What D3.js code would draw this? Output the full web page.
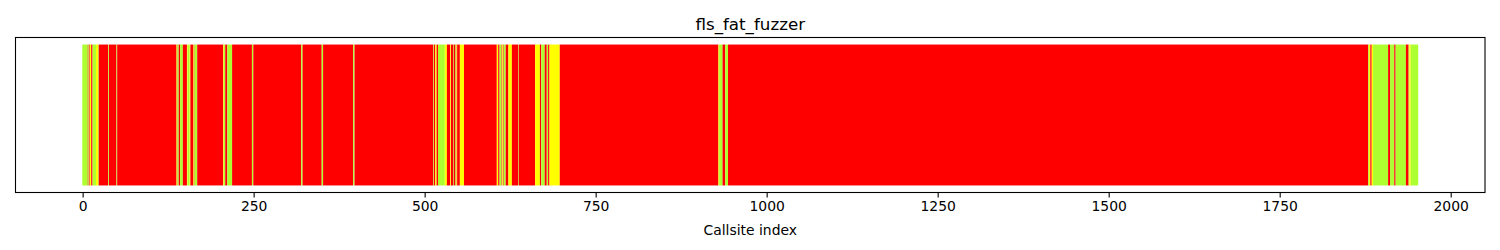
<!DOCTYPE html>
<html>
<head>
<meta charset="utf-8">
<script src="https://cdn.jsdelivr.net/npm/d3@7"></script>
<style>
  body { margin: 0; background: #fff; }
  svg text { font-family: "DejaVu Sans", sans-serif; fill: #000; }
</style>
</head>
<body>
<div id="chart"></div>
<script>
/*------Callsite coverage, stored as runs: each run ends (exclusive) at runEnd and has one colour code------*/

var chartTitle = "fls_fat_fuzzer";
var xLabel = "Callsite index";
var callsiteCount = 1953;

var runEnd = [8, 9, 10, 11, 13, 15, 20, 23, 24, 38, 39, 50, 51, 137, 138, 139, 141, 143, 147, 153,
  154, 157, 158, 162, 163, 164, 168, 206, 207, 209, 212, 219, 248, 250, 320, 322, 350, 352, 396, 398,
  513, 514, 516, 518, 520, 530, 533, 538, 539, 542, 543, 545, 546, 547, 548, 552, 558, 606, 608, 610,
  613, 614, 615, 616, 619, 623, 628, 637, 638, 662, 669, 671, 676, 679, 681, 683, 698, 930, 931, 936,
  940, 944, 1880, 1881, 1883, 1885, 1887, 1909, 1912, 1918, 1920, 1935, 1939, 1940, 1942, 1953];

var runCode = ["G", "R", "G", "R", "Y", "R", "G", "Y", "G", "R", "G", "R", "G", "R", "Y", "R", "G", "R", "G", "R",
  "Y", "G", "Y", "R", "Y", "R", "G", "R", "Y", "G", "R", "G", "R", "G", "R", "G", "R", "G", "R", "G",
  "R", "G", "R", "Y", "R", "G", "Y", "R", "Y", "R", "G", "R", "G", "R", "Y", "R", "Y", "R", "Y", "R",
  "G", "R", "Y", "R", "G", "R", "Y", "R", "G", "R", "Y", "R", "G", "R", "G", "R", "Y", "R", "Y", "G",
  "R", "G", "R", "G", "Y", "R", "Y", "G", "R", "G", "R", "G", "R", "G", "Y", "G"];

var xTicks = [0, 250, 500, 750, 1000, 1250, 1500, 1750, 2000];

var colorOf = { R: "#ff0000", Y: "#ffff00", G: "#adff2f" };

/*------Build the run table------*/

var runs = runEnd.map(function(e, i) {
  return { start: i === 0 ? 0 : runEnd[i - 1], end: e, code: runCode[i] };
});

/*------Canvas------*/

var width = 1500, height = 250;
var margin = { left: 15.5, right: 15, top: 37.5, bottom: 57.5 };

var svg = d3.select("#chart")
  .append("svg")
  .attr("width", width)
  .attr("height", height);

// bars are centred on their index, width 1, axes padded by 5% like matplotlib
var lo = -0.5, hi = callsiteCount - 0.5;
var pad = (hi - lo) * 0.05;

var x = d3.scaleLinear()
  .domain([lo - pad, hi + pad])
  .range([margin.left, width - margin.right]);

var y = d3.scaleLinear()
  .domain([-0.05, 1.05])
  .range([height - margin.bottom, margin.top]);

/*------Bars------*/

svg.append("g")
  .selectAll("rect")
  .data(runs)
  .enter()
  .append("rect")
    .attr("x", function(d) { return x(d.start - 0.5); })
    .attr("width", function(d) { return x(d.end - 0.5) - x(d.start - 0.5); })
    .attr("y", y(1))
    .attr("height", y(0) - y(1))
    .attr("fill", function(d) { return colorOf[d.code]; });

/*------Frame------*/

svg.append("rect")
  .attr("x", margin.left)
  .attr("y", margin.top)
  .attr("width", width - margin.left - margin.right)
  .attr("height", height - margin.top - margin.bottom)
  .attr("fill", "none")
  .attr("stroke", "#000")
  .attr("stroke-width", 1.1);

/*------X axis------*/

var xAxis = svg.append("g")
  .attr("transform", "translate(0," + (height - margin.bottom) + ")")
  .call(d3.axisBottom(x).tickValues(xTicks).tickSize(4.9).tickPadding(4).tickFormat(d3.format("d")));

xAxis.select(".domain").remove();
xAxis.selectAll(".tick line").attr("stroke", "#000").attr("stroke-width", 1.1);
xAxis.selectAll(".tick text")
  .attr("font-size", "13.9px")
  .attr("font-family", "DejaVu Sans")
  .attr("fill", "#000");

/*------Labels------*/

svg.append("text")
  .attr("x", (margin.left + width - margin.right) / 2)
  .attr("y", 30)
  .attr("text-anchor", "middle")
  .style("font-size", "16.7px")
  .text(chartTitle);

svg.append("text")
  .attr("x", (margin.left + width - margin.right) / 2)
  .attr("y", 235)
  .attr("text-anchor", "middle")
  .style("font-size", "13.9px")
  .text(xLabel);
</script>
</body>
</html>
